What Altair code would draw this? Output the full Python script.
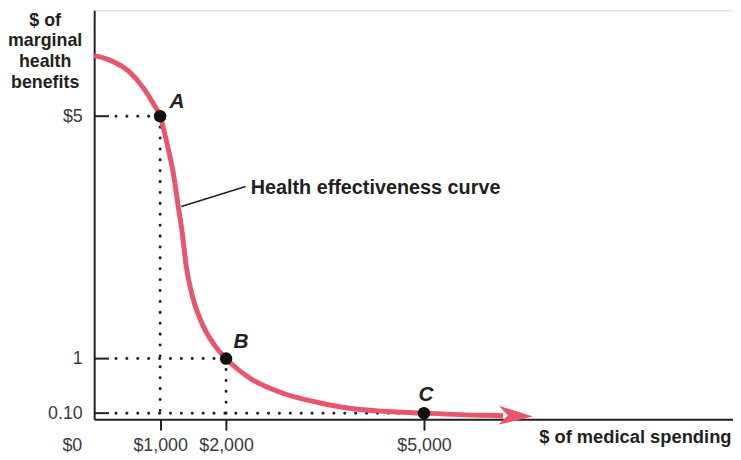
import altair as alt
import pandas as pd

# ---- data ----
curve_x = [0, 225, 526, 751, 901, 1000, 1096, 1201, 1276, 1336, 1396, 1502, 1652, 1832,
           2000, 2372, 2883, 3378, 3874, 4384, 5000, 5886, 6200]
curve_y = [6.00, 5.93, 5.74, 5.46, 5.20, 5.00, 4.59, 4.05, 3.50, 3.07, 2.52, 1.98, 1.54, 1.21,
           1.00, 0.67, 0.42, 0.28, 0.18, 0.13, 0.10, 0.065, 0.058]

point_names = ["A", "B", "C"]
point_x = [1000, 2000, 5000]
point_y = [5, 1, 0.1]

x_ticks = [1000, 2000, 5000]
y_ticks = [0.1, 1, 5]
y_tick_labels = ["0.10", "1", "$5"]

arrow_x = [6390]
arrow_y = [0.055]

leader_x = [1321, 2297]
leader_y = [3.51, 3.84]
curve_label = "Health effectiveness curve"

y_title = ["$ of", "marginal", "health", "benefits"]
x_title = "$ of medical spending"
origin_label = "$0"

# dotted guide segments
seg_x = [330, 1000, 330, 2000, 330]
seg_x2 = [1000, 1000, 2000, 2000, 5000]
seg_y = [5, 5, 1, 1, 0.1]
seg_y2 = [5, 0.1, 1, 0.1, 0.1]

PINK = "#E9556F"
INK = "#231F20"
FONT = "Liberation Sans"

x_scale = alt.Scale(domain=[0, 9685], nice=False, zero=False)
y_scale = alt.Scale(domain=[0, 6.75], nice=False, zero=False)

curve_df = pd.DataFrame({"x": curve_x, "y": curve_y})
pts_df = pd.DataFrame({"x": point_x, "y": point_y, "name": point_names})
seg_df = pd.DataFrame({"x": seg_x, "x2": seg_x2, "y": seg_y, "y2": seg_y2})
tick_df = pd.DataFrame({"x": [0] * len(y_ticks), "x2": [225] * len(y_ticks), "y": y_ticks})
arrow_df = pd.DataFrame({"x": arrow_x, "y": arrow_y})
leader_df = pd.DataFrame({"x": leader_x, "y": leader_y})
label_df = pd.DataFrame({"x": [leader_x[1] + 75], "y": [3.81], "t": [curve_label]})
origin_df = pd.DataFrame({"x": [0], "y": [0], "t": [origin_label]})

label_expr_y = ("datum.value == 5 ? '" + y_tick_labels[2] + "' : datum.value == 1 ? '"
                + y_tick_labels[1] + "' : '" + y_tick_labels[0] + "'")

x_axis = alt.Axis(values=x_ticks, labelExpr="'$' + format(datum.value, ',')",
                  grid=False, tickSize=11, tickWidth=2, tickColor=INK,
                  domainColor=INK, domainWidth=2, labelFont=FONT, labelFontSize=18,
                  labelColor="#3a3a3a", labelPadding=7, labelFontWeight="normal",
                  title=x_title, titleX=643, titleY=24, titleAlign="right",
                  titleBaseline="alphabetic", titleFont=FONT, titleFontSize=18.5,
                  titleFontWeight="bold", titleColor=INK)
y_axis = alt.Axis(values=y_ticks, labelExpr=label_expr_y, grid=False, ticks=False,
                  domainColor=INK, domainWidth=2, labelFont=FONT, labelFontSize=18,
                  labelColor="#3a3a3a", labelPadding=12,
                  title=y_title, titleAngle=0, titleX=-50, titleY=15,
                  titleAlign="center", titleBaseline="alphabetic", titleLineHeight=21,
                  titleFont=FONT, titleFontSize=18, titleFontWeight="bold", titleColor=INK)

base_x = alt.X("x:Q", scale=x_scale, axis=x_axis)
base_y = alt.Y("y:Q", scale=y_scale, axis=y_axis)

dots = alt.Chart(seg_df).mark_rule(strokeDash=[0.1, 10.9], strokeCap="round",
                                   strokeWidth=3, color=INK).encode(
    x=base_x, y=base_y, x2="x2:Q", y2="y2:Q")

yticks = alt.Chart(tick_df).mark_rule(strokeWidth=2, color=INK).encode(
    x=alt.X("x:Q", scale=x_scale), x2="x2:Q", y=alt.Y("y:Q", scale=y_scale))

curve = alt.Chart(curve_df).mark_line(color=PINK, strokeWidth=5, interpolate="monotone",
                                      strokeCap="butt").encode(
    x=alt.X("x:Q", scale=x_scale), y=alt.Y("y:Q", scale=y_scale), order="x:Q")

arrow = alt.Chart(arrow_df).mark_point(
    shape="M 1 0 L -1 -0.56 L -0.45 0 L -1 0.56 Z", size=1200, filled=True,
    opacity=1, color=PINK, angle=2, strokeWidth=0).encode(
    x=alt.X("x:Q", scale=x_scale), y=alt.Y("y:Q", scale=y_scale))

leader = alt.Chart(leader_df).mark_line(color=INK, strokeWidth=1.5).encode(
    x=alt.X("x:Q", scale=x_scale), y=alt.Y("y:Q", scale=y_scale))

label = alt.Chart(label_df).mark_text(align="left", baseline="middle", font=FONT,
                                      fontSize=20, fontWeight="bold", color=INK).encode(
    x=alt.X("x:Q", scale=x_scale), y=alt.Y("y:Q", scale=y_scale), text="t:N")

points = alt.Chart(pts_df).mark_circle(size=160, color="#111111", opacity=1).encode(
    x=alt.X("x:Q", scale=x_scale), y=alt.Y("y:Q", scale=y_scale))

offsets = {"A": (17, -14), "B": (15, -17), "C": (2, -18)}
letters = [
    alt.Chart(pts_df[pts_df.name == n]).mark_text(
        font=FONT, fontSize=21, fontWeight="bold", fontStyle="italic", color=INK,
        dx=offsets[n][0], dy=offsets[n][1], align="center", baseline="middle").encode(
        x=alt.X("x:Q", scale=x_scale), y=alt.Y("y:Q", scale=y_scale), text="name:N")
    for n in point_names
]

origin = alt.Chart(origin_df).mark_text(align="right", baseline="middle", dx=-12, dy=27,
                                        font=FONT, fontSize=18, color="#3a3a3a").encode(
    x=alt.X("x:Q", scale=x_scale), y=alt.Y("y:Q", scale=y_scale), text="t:N")

chart = alt.layer(dots, yticks, curve, arrow, leader, label, points, *letters, origin).properties(
    width=645, height=413,
    autosize=alt.AutoSizeParams(type="none"),
    padding={"left": 87, "top": 0, "right": 0, "bottom": 37},
).configure_view(stroke=None).configure(background="white")

chart.save("out.html", embed_options={"renderer": "svg", "actions": False})
